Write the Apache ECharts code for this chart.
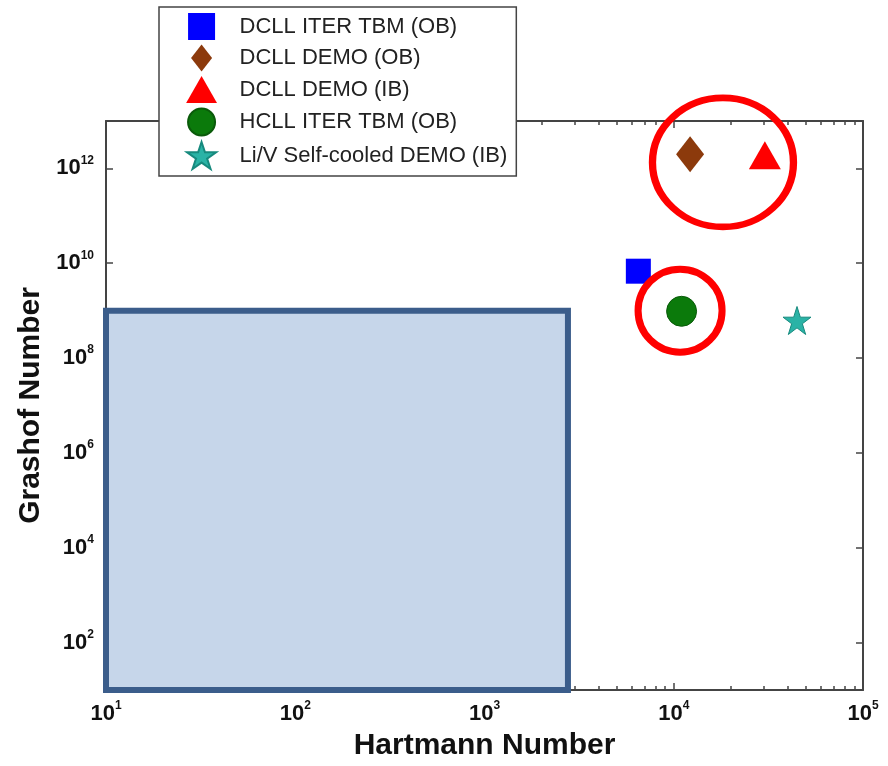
<!DOCTYPE html>
<html>
<head>
<meta charset="utf-8">
<title>Grashof vs Hartmann</title>
<script src="https://cdn.jsdelivr.net/npm/echarts@6/dist/echarts.min.js"></script>
<style>
  html, body { margin: 0; padding: 0; background: #fff; }
  #chart { width: 888px; height: 766px; }
</style>
</head>
<body>
<div id="chart"></div>
<script>
// operating points (Hartmann number, Grashof number)
var seriesNames = ['DCLL ITER TBM (OB)', 'DCLL DEMO (OB)', 'DCLL DEMO (IB)', 'HCLL ITER TBM (OB)', 'Li/V Self-cooled DEMO (IB)'];
var hartmann = [6500, 12200, 30300, 11000, 44800];
var grashof = [6.8e9, 2.0e12, 1.9e12, 9.7e8, 6.2e8];

// centres of the two highlight rings
var ringHartmann = [18200, 10800];
var ringGrashof = [1.34e12, 1.0e9];

// shaded region (corners)
var regionHartmann = [10, 2760];
var regionGrashof = [10, 1e9];

// axis ticks
var xDecades = [10, 100, 1000, 10000, 100000];
var yTickValues = [1e2, 1e4, 1e6, 1e8, 1e10, 1e12];
var minorSteps = [2, 3, 4, 5, 6, 7, 8, 9];

var starPath = 'path://M50,0 L61.8,35.3 L100,35.3 L69.1,57.1 L80.9,92.7 L50,70.7 L19.1,92.7 L30.9,57.1 L0,35.3 L38.2,35.3 Z';
var markerStyles = [
  {symbol: 'rect', size: 25, color: '#0000ff', icon: 'path://M0,0 L24,0 L24,24 L0,24 Z'},
  {symbol: 'diamond', size: [28, 36], color: '#8c3a0c', icon: 'path://M14,0 L28,18 L14,36 L0,18 Z'},
  {symbol: 'triangle', size: [32, 28], color: '#ff0000', icon: 'path://M16,0 L32,28 L0,28 Z'},
  {symbol: 'circle', size: 30, color: '#0b7a0b', border: '#0a5a0a'},
  {symbol: starPath, size: 28, color: '#2ab3a6', border: '#178a7e'}
];
var ringSizes = [[141, 129], [84, 83]];

var minorTicks = [];
xDecades.slice(0, 4).forEach(function (d) {
  minorSteps.forEach(function (m) { minorTicks.push(d * m); });
});

var axisColor = '#444';
var fontFam = '"Liberation Sans", Arial, sans-serif';

function powLabel(v) {
  var e = Math.round(Math.log10(v));
  return '{b|10}{s|' + e + '}';
}
var powRich = {
  b: {fontSize: 22, fontWeight: 'bold', color: '#111', lineHeight: 28, fontFamily: fontFam},
  s: {fontSize: 12, fontWeight: 'bold', color: '#111', verticalAlign: 'top', fontFamily: fontFam}
};

var chart = echarts.init(document.getElementById('chart'));

var series = [];
series.push({
  type: 'scatter',
  name: 'region',
  data: [],
  z: 1,
  markArea: {
    silent: true,
    itemStyle: {color: '#c6d6ea', borderColor: '#3b5d8b', borderWidth: 6},
    data: [[
      {coord: [regionHartmann[0], regionGrashof[0]]},
      {coord: [regionHartmann[1], regionGrashof[1]]}
    ]]
  }
});
seriesNames.forEach(function (name, i) {
  var st = markerStyles[i];
  series.push({
    type: 'scatter',
    name: name,
    data: [[hartmann[i], grashof[i]]],
    symbol: st.symbol,
    symbolSize: st.size,
    itemStyle: {color: st.color, borderColor: st.border || st.color, borderWidth: st.border ? 1 : 0, opacity: 1},
    z: 3
  });
});
series.push({
  type: 'scatter',
  name: 'rings',
  data: ringHartmann.map(function (h, i) { return [h, ringGrashof[i]]; }),
  symbol: 'circle',
  symbolSize: function (val, params) { return ringSizes[params.dataIndex]; },
  itemStyle: {color: 'rgba(0,0,0,0)', borderColor: '#ff0000', borderWidth: 7, opacity: 1},
  clip: false,
  silent: true,
  z: 4
});

function xAxisDef(pos, main) {
  return {
    type: 'log', logBase: 10, min: 10, max: 1e5, position: pos,
    axisLine: {show: main, onZero: false, lineStyle: {color: axisColor, width: 2}},
    axisTick: main ? {inside: true, length: 7, lineStyle: {color: axisColor, width: 1.5}}
                   : {inside: true, length: 4, customValues: minorTicks, lineStyle: {color: axisColor, width: 1.5}},
    axisLabel: {show: false},
    splitLine: {show: false}
  };
}

var xAxes = [xAxisDef('bottom', true), xAxisDef('top', true), xAxisDef('bottom', false), xAxisDef('top', false)];
xAxes[0].axisLabel = {show: true, formatter: powLabel, rich: powRich, margin: 10};
xAxes[0].name = 'Hartmann Number';
xAxes[0].nameLocation = 'middle';
xAxes[0].nameGap = 41;
xAxes[0].nameTextStyle = {fontSize: 30, fontWeight: 'bold', color: '#111', fontFamily: fontFam};

function yAxisDef(pos) {
  return {
    type: 'log', logBase: 10, min: 10, max: 1e13, position: pos,
    axisLine: {show: true, onZero: false, lineStyle: {color: axisColor, width: 2}},
    axisTick: {inside: true, length: 7, customValues: yTickValues, lineStyle: {color: axisColor, width: 1.5}},
    axisLabel: {show: false},
    splitLine: {show: false}
  };
}
var yAxes = [yAxisDef('left'), yAxisDef('right')];
yAxes[0].axisLabel = {show: true, customValues: yTickValues, formatter: powLabel, rich: powRich, margin: 12};
yAxes[0].name = 'Grashof Number';
yAxes[0].nameLocation = 'middle';
yAxes[0].nameGap = 52;
yAxes[0].nameTextStyle = {fontSize: 30, fontWeight: 'bold', color: '#111', fontFamily: fontFam};

var option = {
  animation: false,
  backgroundColor: '#fff',
  textStyle: {fontFamily: fontFam},
  grid: {left: 106, right: 25, top: 121, bottom: 75},
  legend: {
    data: seriesNames.map(function (n, i) {
      var d = {name: n};
      if (markerStyles[i].icon) d.icon = markerStyles[i].icon;
      return d;
    }),
    orient: 'vertical',
    left: 159, top: 7,
    itemWidth: 66, itemHeight: 27, itemGap: 4.5,
    padding: [6, 9, 6, 27],
    backgroundColor: '#fff',
    borderColor: '#444', borderWidth: 1.5,
    selectedMode: false,
    textStyle: {fontSize: 22, color: '#222', fontFamily: fontFam},
    z: 10
  },
  xAxis: xAxes,
  yAxis: yAxes,
  series: series
};
chart.setOption(option);
</script>
</body>
</html>
